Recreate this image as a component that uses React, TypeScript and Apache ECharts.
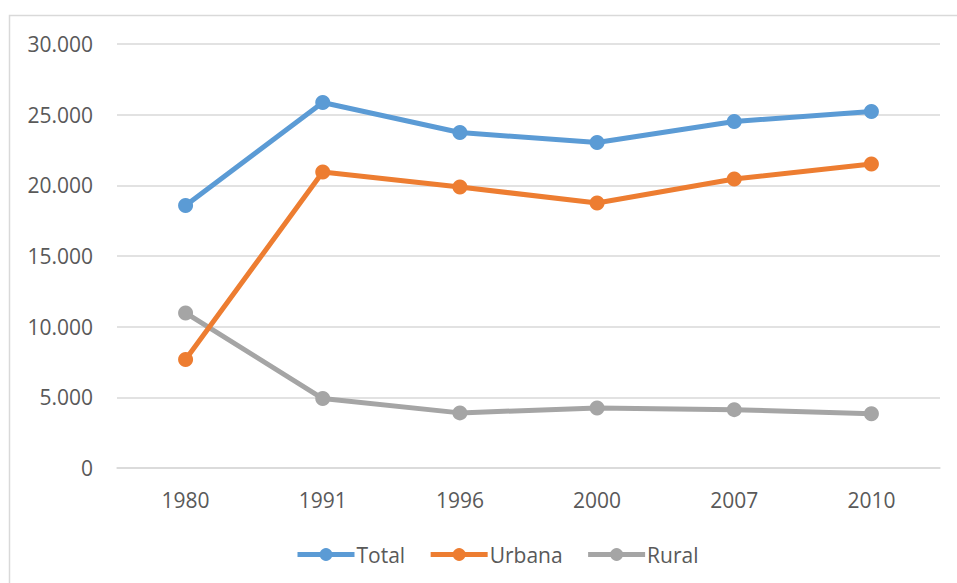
import React, { useEffect, useRef } from "react";
import * as echarts from "echarts";

const categories = ["1980", "1991", "1996", "2000", "2007", "2010"];
const totalValues = [18580, 25860, 23740, 23030, 24520, 25230];
const urbanaValues = [7670, 20940, 19880, 18750, 20450, 21510];
const ruralValues = [10970, 4910, 3900, 4250, 4130, 3830];
const seriesNames = ["Total", "Urbana", "Rural"];
const seriesColors = ["#5B9BD5", "#ED7D31", "#A5A5A5"];

const fmt = (v: number) =>
  String(Math.round(v)).replace(/\B(?=(\d{3})+(?!\d))/g, ".");

export default function App() {
  const ref = useRef<HTMLDivElement>(null);
  useEffect(() => {
    if (!ref.current) return;
    const chart = echarts.init(ref.current, undefined, { renderer: "svg" });
    const font = "'Open Sans', sans-serif";
    const data = [totalValues, urbanaValues, ruralValues];
    chart.setOption({
      animation: false,
      backgroundColor: "#ffffff",
      graphic: [
        {
          type: "rect",
          shape: { x: 9.5, y: 15.5, width: 1000, height: 1000 },
          style: { fill: "none", stroke: "#d9d9d9", lineWidth: 1.5 },
          silent: true,
        },
      ],
      grid: { left: 117, right: 17, top: 44, bottom: 115 },
      legend: {
        data: seriesNames,
        top: 539,
        left: 290,
        itemWidth: 57,
        itemHeight: 16,
        itemGap: 23,
        lineStyle: { width: 5 },
        textStyle: { fontFamily: font, fontSize: 21, color: "#595959", padding: [0, 0, 0, -3] },
      },
      xAxis: {
        type: "category",
        data: categories,
        boundaryGap: true,
        axisLine: { show: true, lineStyle: { color: "#d9d9d9", width: 1.5 } },
        axisTick: { show: false },
        axisLabel: { fontFamily: font, fontSize: 21, color: "#595959", margin: 21 },
      },
      yAxis: {
        type: "value",
        min: 0,
        max: 30000,
        interval: 5000,
        axisLine: { show: false },
        axisTick: { show: false },
        splitLine: { lineStyle: { color: "#d9d9d9", width: 1.5 } },
        axisLabel: {
          fontFamily: font,
          fontSize: 21,
          color: "#595959",
          margin: 24,
          formatter: (v: number) => fmt(v),
        },
      },
      series: seriesNames.map((name, i) => ({
        name,
        type: "line",
        data: data[i],
        symbol: "circle",
        symbolSize: 15,
        color: seriesColors[i],
        lineStyle: { width: 5, color: seriesColors[i] },
        itemStyle: { color: seriesColors[i] },
        z: 3 - i,
      })),
    });
    return () => chart.dispose();
  }, []);
  return (
    <div
      ref={ref}
      style={{ position: "fixed", left: 0, top: 0, width: 957, height: 583 }}
    />
  );
}
